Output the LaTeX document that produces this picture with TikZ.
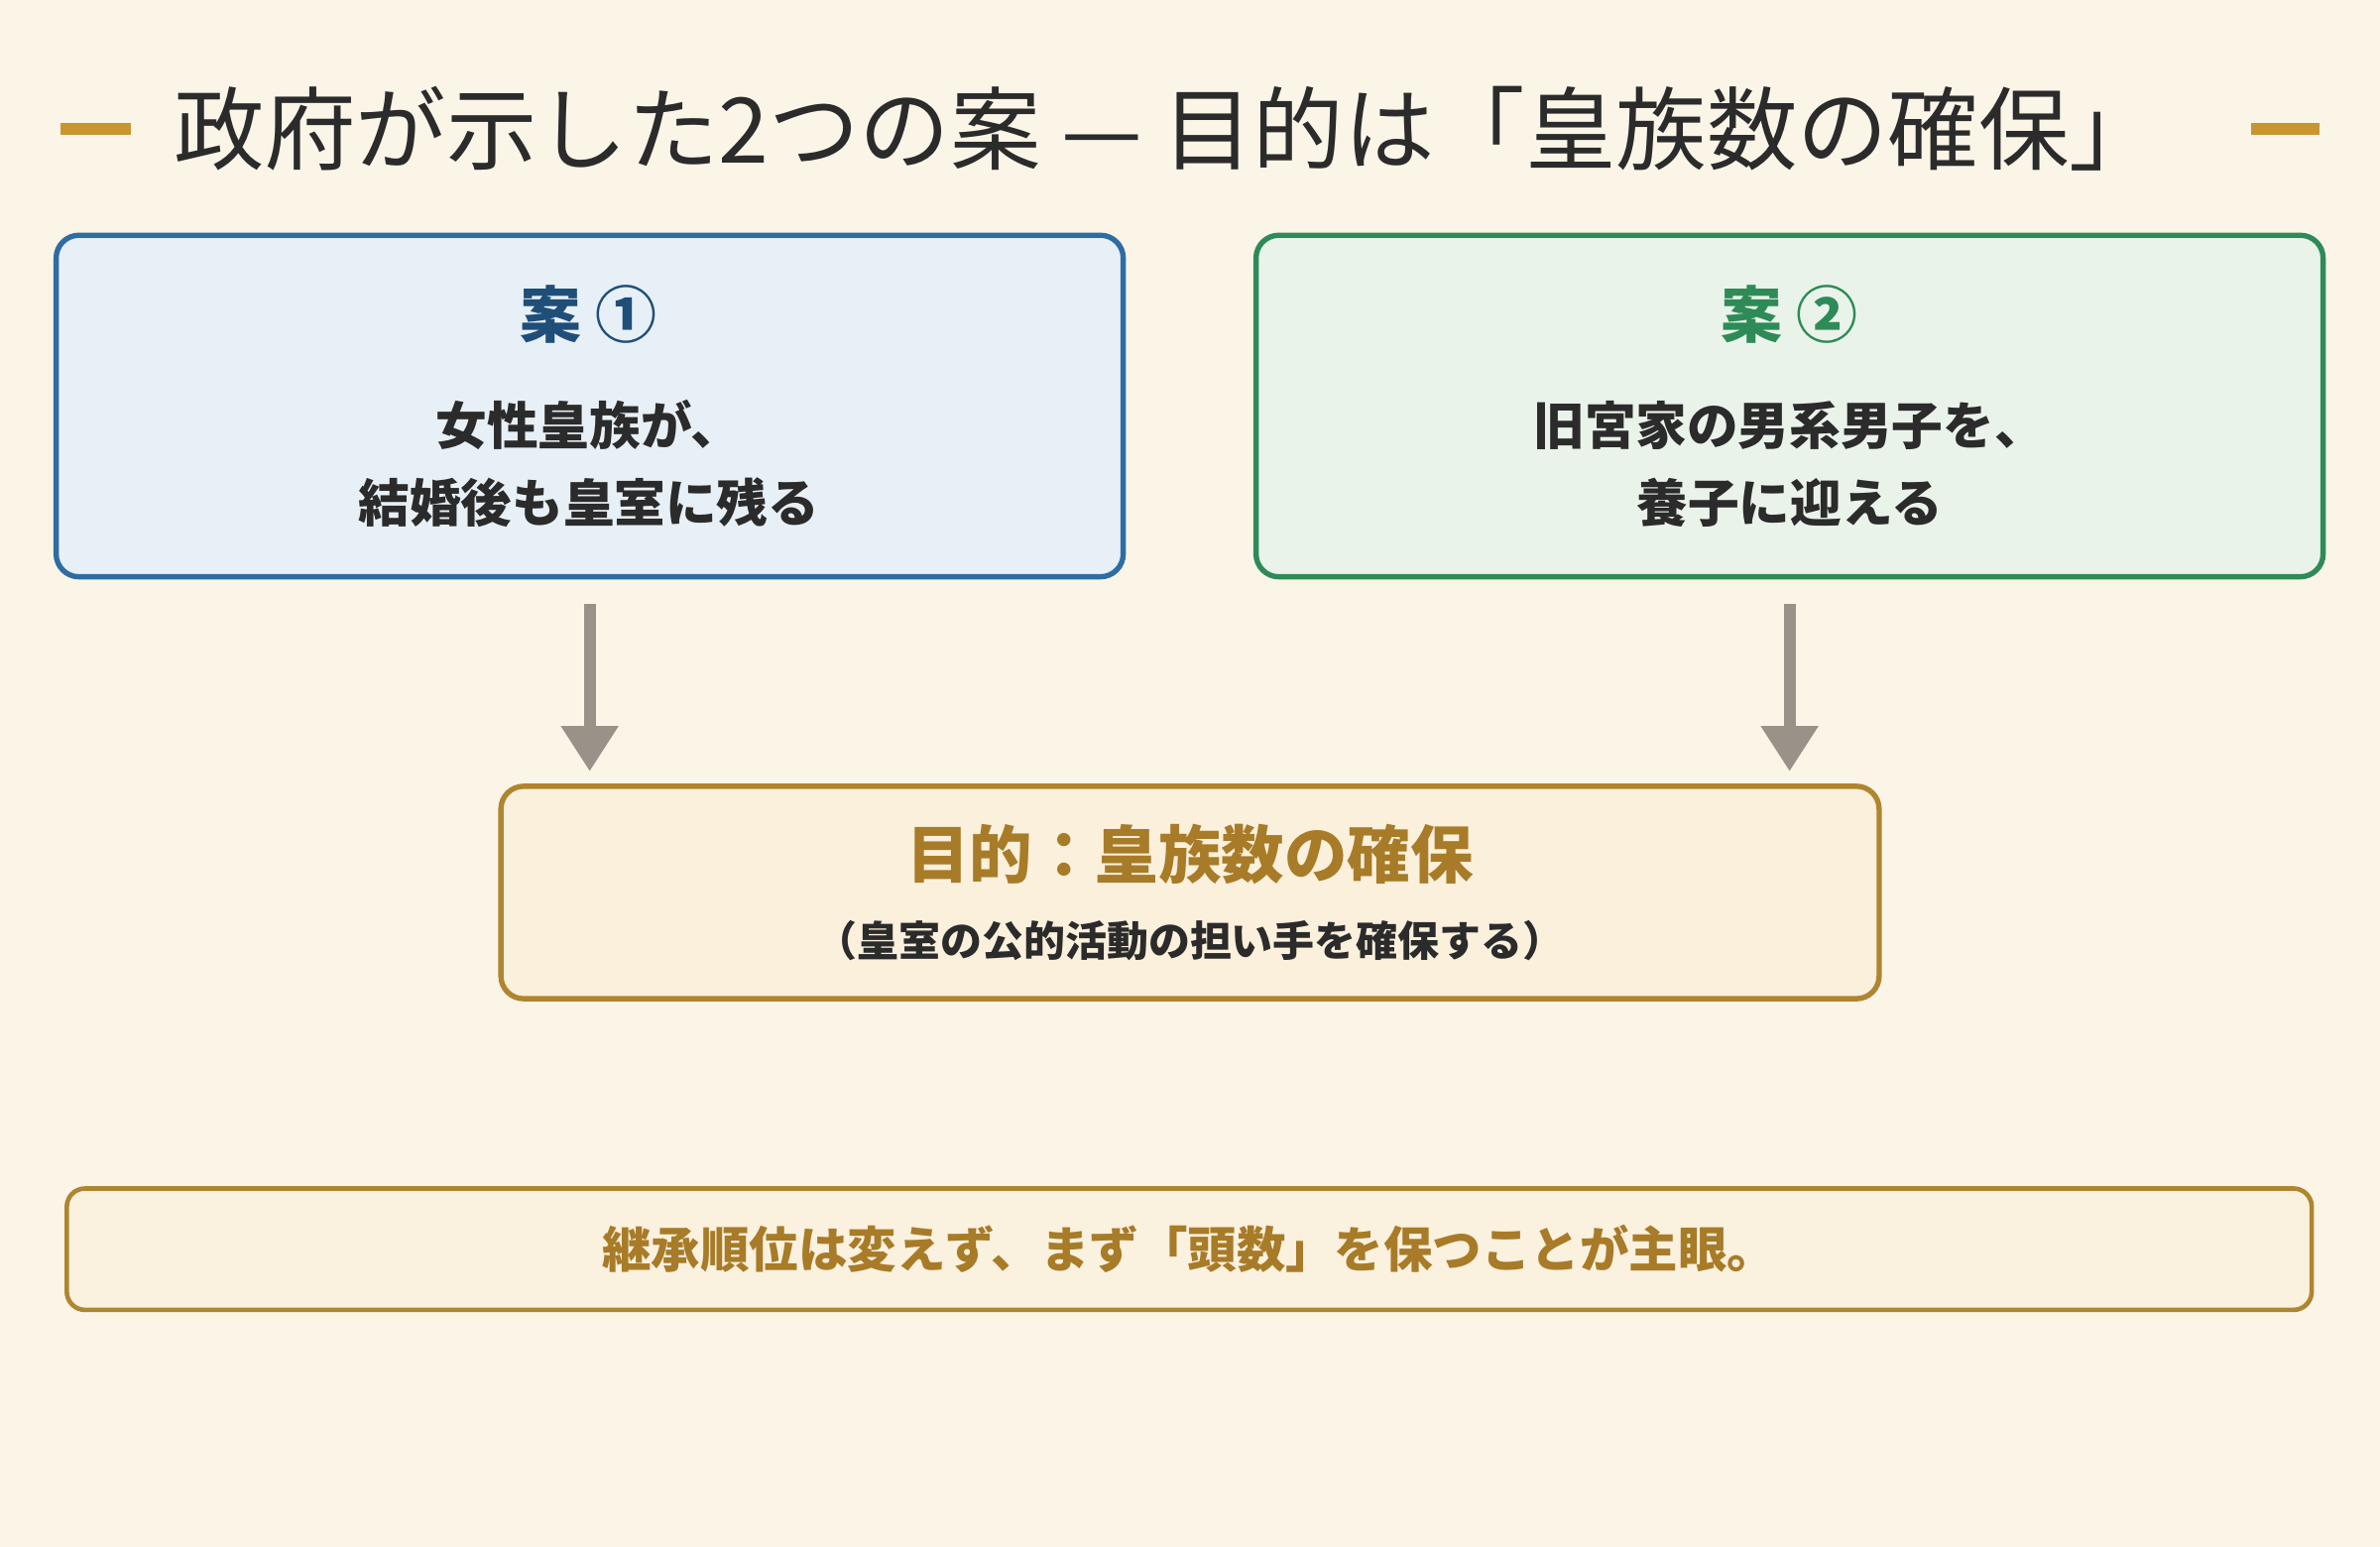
\documentclass[tikz,border=0pt]{standalone}
\usepackage{fontspec}
\setmainfont{Noto Sans CJK JP}
\usetikzlibrary{positioning,arrows.meta}
\definecolor{bgcream}{HTML}{FBF5E8}
\definecolor{gold}{HTML}{C9962E}
\definecolor{goldtext}{HTML}{A87B28}
\definecolor{goldline}{HTML}{B08530}
\definecolor{goldfill}{HTML}{FBF0DC}
\definecolor{notefill}{HTML}{FBF1DF}
\definecolor{blueline}{HTML}{2E6DA4}
\definecolor{bluefill}{HTML}{E8F0F7}
\definecolor{bluetext}{HTML}{1F4E79}
\definecolor{greenline}{HTML}{2E8B57}
\definecolor{greenfill}{HTML}{EAF3EA}
\definecolor{darktext}{HTML}{2B2B2B}
\definecolor{arrowgray}{HTML}{9A9288}
\tikzset{
  plan/.style={draw, line width=0.35mm, rounded corners=0.15cm, minimum width=7.03cm, minimum height=2.25cm},
  flow/.style={draw=arrowgray, line width=0.8mm, -{Triangle[width=0.36cm,length=0.3cm]}},
  body/.style={font=\fontsize{9.6}{14.5}\selectfont\bfseries, text=darktext, align=center},
}
\begin{document}
\begin{tikzpicture}
  \useasboundingbox[fill=bgcream] (0,0) rectangle (15.68,10.19);

  % Drawing title with dashes
  \node[font=\fontsize{17}{20}\selectfont, text=darktext] (title) at (7.69,9.34) {政府が示した2つの案 — 目的は「皇族数の確保」};
  \draw[gold, line width=0.8mm] (0.40,9.34) -- (0.86,9.34);
  \draw[gold, line width=0.8mm] (14.83,9.34) -- (15.28,9.34);

  % Drawing plan 1
  \node[plan, draw=blueline, fill=bluefill] (b1) at (3.885,7.515) {};
  \node[font=\fontsize{11.5}{14}\selectfont\bfseries, text=bluetext] (t1) at (3.88,8.12) {案 ①};
  \node[body] (s1) at (3.88,7.135) {女性皇族が、\\結婚後も皇室に残る};

  % Drawing plan 2
  \node[plan, draw=greenline, fill=greenfill] (b2) at (11.79,7.515) {};
  \node[font=\fontsize{11.5}{14}\selectfont\bfseries, text=greenline] (t2) at (11.79,8.12) {案 ②};
  \node[body] (s2) at (11.79,7.135) {旧宮家の男系男子を、\\養子に迎える};

  % Drawing goal
  \node[draw=goldline, fill=goldfill, line width=0.35mm, rounded corners=0.15cm,
        minimum width=9.08cm, minimum height=1.40cm] (goal) at (7.84,4.31) {};
  \node[font=\fontsize{11.8}{15}\selectfont\bfseries, text=goldtext] (gt) at (7.84,4.56) {目的：皇族数の確保};
  \node[font=\fontsize{7.8}{10}\selectfont\bfseries, text=darktext] (gs) at (7.84,3.99) {（皇室の公的活動の担い手を確保する）};

  % Drawing arrows
  \draw[flow] ([yshift=-0.16cm]b1.south) -- ([yshift=0.08cm]b1.south |- goal.north);
  \draw[flow] ([yshift=-0.16cm]b2.south) -- ([yshift=0.08cm]b2.south |- goal.north);

  % Drawing note
  \node[draw=goldline, fill=notefill, line width=0.3mm, rounded corners=0.12cm,
        minimum width=14.79cm, minimum height=0.80cm,
        font=\fontsize{9.2}{12}\selectfont\bfseries, text=goldtext] (note) at (7.835,1.96)
        {継承順位は変えず、まず「頭数」を保つことが主眼。};
\end{tikzpicture}
\end{document}
